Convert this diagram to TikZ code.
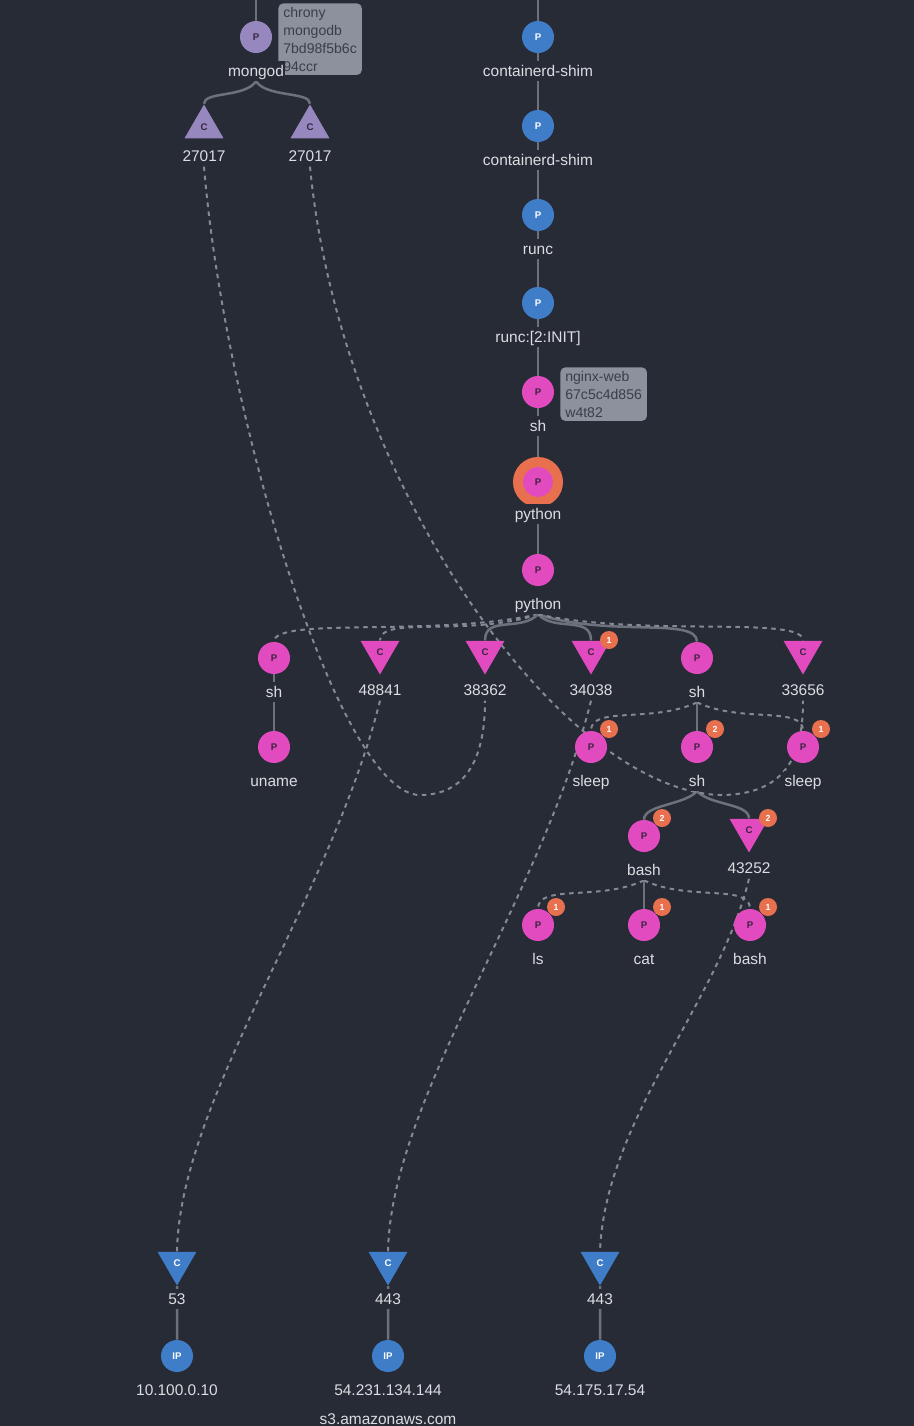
\documentclass[tikz,border=0pt]{standalone}
\usepackage{fontspec}
\setmainfont{Liberation Sans}
\usetikzlibrary{positioning,shapes.geometric}

\definecolor{bgdark}{HTML}{272B36}
\definecolor{purpp}{HTML}{9687BE}
\definecolor{bluep}{HTML}{3F7DC8}
\definecolor{pinkp}{HTML}{E24BBF}
\definecolor{ringor}{HTML}{E8704F}
\definecolor{tagfill}{HTML}{8C919D}
\definecolor{tagink}{HTML}{3A3E4A}
\definecolor{lbltext}{HTML}{DCDDE1}
\definecolor{procink}{HTML}{3B2440}
\definecolor{solidgray}{HTML}{6D717C}
\definecolor{dashgray}{HTML}{858995}

\pgfdeclarelayer{backdrop}
\pgfdeclarelayer{links}
\pgfsetlayers{backdrop,links,main}

\newcommand\lblfont{\fontsize{8.8}{10}\selectfont}
\newcommand\glyphfont{\fontsize{5.5}{6}\selectfont\bfseries}

\tikzset{
  proc/.style={circle, fill=#1, minimum size=6.4mm, inner sep=0pt, text=procink, font=\glyphfont},
  conn/.style={regular polygon, regular polygon sides=3, fill=#1, minimum size=9mm, inner sep=0pt, text=procink, font=\glyphfont},
  conndown/.style={conn=#1, shape border rotate=180},
  lbl/.style={fill=bgdark, text=lbltext, inner sep=0.5pt, text height=1.6ex, text depth=0.4ex, font=\lblfont},
  tagbox/.style={fill=tagfill, rounded corners=1mm, text=tagink, align=left, anchor=north west, inner xsep=1mm, inner ysep=0.7mm, font=\fontsize{8}{10.3}\selectfont},
  badge/.style={circle, fill=ringor, minimum size=3.6mm, inner sep=0pt, text=white, font=\fontsize{5}{5}\selectfont\bfseries},
  treeline/.style={draw=solidgray, line width=0.5mm},
  netline/.style={draw=dashgray, line width=0.4mm, dash pattern=on 0.9mm off 0.9mm},
  fan/.style={in=90, out distance=#1, in distance=5mm},
}

\begin{document}
\begin{tikzpicture}[x=0.2mm, y=-0.2mm, node distance=1.4mm]
  \begin{pgfonlayer}{backdrop}
    \fill[bgdark] (0,0) rectangle (914,1426);
  \end{pgfonlayer}
  \useasboundingbox (0,0) rectangle (914,1426);

  % mongo container
  \coordinate (topl) at (256,0);
  \node[proc=purpp] (mgd) at (256,37) {P};
  \node[tagbox] (mgdtag) at (278,3) {chrony\\mongodb\\7bd98f5b6c\\94ccr};
  \node[lbl, below=of mgd] (mgdl) {mongod};
  \node[conn=purpp] (p27a) at (204,127) {C};
  \node[lbl, below=of p27a] (p27al) {27017};
  \node[conn=purpp] (p27b) at (310,127) {C};
  \node[lbl, below=of p27b] (p27bl) {27017};

  % nginx container chain
  \coordinate (topr) at (538,0);
  \node[proc=bluep, text=white] (cs1) at (538,37) {P};
  \node[lbl, below=of cs1] (cs1l) {containerd-shim};
  \node[proc=bluep, text=white] (cs2) at (538,126) {P};
  \node[lbl, below=of cs2] (cs2l) {containerd-shim};
  \node[proc=bluep, text=white] (rc) at (538,215) {P};
  \node[lbl, below=of rc] (rcl) {runc};
  \node[proc=bluep, text=white] (rci) at (538,303) {P};
  \node[lbl, below=of rci] (rcil) {runc:[2:INIT]};
  \node[proc=pinkp] (sh1) at (538,392) {P};
  \node[tagbox] (shtag) at (560,367) {nginx-web\\67c5c4d856\\w4t82};
  \node[lbl, below=of sh1] (sh1l) {sh};
  \node[proc=pinkp, draw=ringor, line width=2mm, minimum size=8mm] (py1) at (538,482) {P};
  \node[lbl, below=-0.76mm of py1] (py1l) {python};
  \node[proc=pinkp] (py2) at (538,570) {P};
  \node[lbl, below=of py2] (py2l) {python};

  % children of python
  \node[proc=pinkp] (k1) at (274,658) {P};
  \node[lbl, below=of k1] (k1l) {sh};
  \node[conndown=pinkp] (k2) at (380,652) {C};
  \node[lbl, below=0.9mm of k2] (k2l) {48841};
  \node[conndown=pinkp] (k3) at (485,652) {C};
  \node[lbl, below=0.9mm of k3] (k3l) {38362};
  \node[conndown=pinkp] (k4) at (591,652) {C};
  \node[lbl, below=0.9mm of k4] (k4l) {34038};
  \node[badge] (k4b) at ([shift={(18,-12)}]k4.center) {1};
  \node[proc=pinkp] (k5) at (697,658) {P};
  \node[lbl, below=of k5] (k5l) {sh};
  \node[conndown=pinkp] (k6) at (803,652) {C};
  \node[lbl, below=0.9mm of k6] (k6l) {33656};

  \node[proc=pinkp] (un) at (274,747) {P};
  \node[lbl, below=of un] (unl) {uname};
  \node[proc=pinkp] (s1) at (591,747) {P};
  \node[lbl, below=of s1] (s1l) {sleep};
  \node[badge] (s1b) at ([shift={(18,-18)}]s1.center) {1};
  \node[proc=pinkp] (s2) at (697,747) {P};
  \node[lbl, below=of s2] (s2l) {sh};
  \node[badge] (s2b) at ([shift={(18,-18)}]s2.center) {2};
  \node[proc=pinkp] (s3) at (803,747) {P};
  \node[lbl, below=of s3] (s3l) {sleep};
  \node[badge] (s3b) at ([shift={(18,-18)}]s3.center) {1};

  \node[proc=pinkp] (b1) at (644,836) {P};
  \node[lbl, below=of b1] (b1l) {bash};
  \node[badge] (b1b) at ([shift={(18,-18)}]b1.center) {2};
  \node[conndown=pinkp] (k43) at (749,830) {C};
  \node[lbl, below=0.9mm of k43] (k43l) {43252};
  \node[badge] (k43b) at ([shift={(19,-12)}]k43.center) {2};

  \node[proc=pinkp] (ls) at (538,925) {P};
  \node[lbl, below=of ls] (lsl) {ls};
  \node[badge] (lsb) at ([shift={(18,-18)}]ls.center) {1};
  \node[proc=pinkp] (cat) at (644,925) {P};
  \node[lbl, below=of cat] (catl) {cat};
  \node[badge] (catb) at ([shift={(18,-18)}]cat.center) {1};
  \node[proc=pinkp] (bsh) at (750,925) {P};
  \node[lbl, below=of bsh] (bshl) {bash};
  \node[badge] (bshb) at ([shift={(18,-18)}]bsh.center) {1};

  % remote ends
  \node[conndown=bluep, text=white] (d53) at (177,1263) {C};
  \node[lbl, below=0.5mm of d53] (d53l) {53};
  \node[conndown=bluep, text=white] (d443a) at (388,1263) {C};
  \node[lbl, below=0.5mm of d443a] (d443al) {443};
  \node[conndown=bluep, text=white] (d443b) at (600,1263) {C};
  \node[lbl, below=0.5mm of d443b] (d443bl) {443};
  \node[proc=bluep, text=white] (ipa) at (177,1356) {IP};
  \node[lbl, below=of ipa] (ipal) {10.100.0.10};
  \node[proc=bluep, text=white] (ipb) at (388,1356) {IP};
  \node[lbl, below=of ipb] (ipbl) {54.231.134.144};
  \node[lbl, below=1.6mm of ipbl] (ipbh) {s3.amazonaws.com};
  \node[proc=bluep, text=white] (ipc) at (600,1356) {IP};
  \node[lbl, below=of ipc] (ipcl) {54.175.17.54};

  \begin{pgfonlayer}{links}
    \draw[treeline] (topl) -- (mgd);
    \draw[treeline] (mgdl.south) to[out=235, in=90, out distance=4mm, in distance=2.5mm] (p27a.north);
    \draw[treeline] (mgdl.south) to[out=-55, in=90, out distance=4mm, in distance=2.5mm] (p27b.north);

    \draw[treeline] (topr) -- (cs1) -- (cs2) -- (rc) -- (rci) -- (sh1) -- (py1) -- (py2);

    \draw[netline] (py2l.south) to[out=192, fan=22mm] (k1.north);
    \draw[netline] (py2l.south) to[out=198, fan=15mm] (k2.north);
    \draw[treeline] (py2l.south) to[out=225, fan=5mm] (k3.north);
    \draw[treeline] (py2l.south) to[out=-45, fan=5mm] (k4.north);
    \draw[treeline] (py2l.south) to[out=-18, fan=15mm] (k5.north);
    \draw[netline] (py2l.south) to[out=-12, fan=22mm] (k6.north);

    \draw[treeline] (k1) -- (un);
    \draw[netline] (k5l.south) to[out=205, fan=10mm] (s1.north);
    \draw[treeline] (k5l.south) -- (s2.north);
    \draw[netline] (k5l.south) to[out=-25, fan=10mm] (s3.north);

    \draw[treeline] (s2l.south) to[out=225, in=90, out distance=4mm, in distance=3mm] (b1.north);
    \draw[treeline] (s2l.south) to[out=-45, in=90, out distance=4mm, in distance=3mm] (k43.north);

    \draw[netline] (b1l.south) to[out=205, fan=10mm] (ls.north);
    \draw[treeline] (b1l.south) -- (cat.north);
    \draw[netline] (b1l.south) to[out=-25, fan=10mm] (bsh.north);

    % local mongo links
    \draw[netline] (p27al.south) .. controls (225,420) and (340,795) .. (420,795)
      .. controls (465,795) and (485,760) .. (k3l.south);
    \draw[netline] (p27bl.south) .. controls (340,480) and (560,790) .. (720,795)
      .. controls (790,795) and (803,750) .. (k6l.south);

    % outbound links
    \draw[netline] (k2l.south) .. controls (330,900) and (180,1100) .. (d53.north);
    \draw[netline] (k4l.south) .. controls (541,900) and (391,1100) .. (d443a.north);
    \draw[netline] (k43l.south) .. controls (720,1000) and (605,1120) .. (d443b.north);

    \draw[treeline] (d53) -- (ipa);
    \draw[treeline] (d443a) -- (ipb);
    \draw[treeline] (d443b) -- (ipc);
  \end{pgfonlayer}
\end{tikzpicture}
\end{document}
